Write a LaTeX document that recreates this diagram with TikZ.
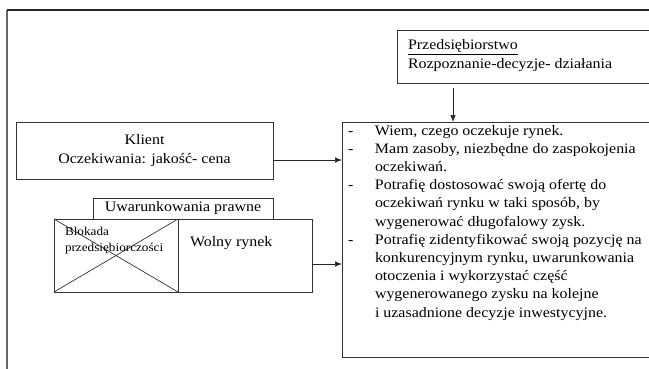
\documentclass[tikz,border=0pt]{standalone}
\usepackage{fontspec}
\setmainfont[FakeStretch=1.1]{Liberation Serif}
\usetikzlibrary{arrows.meta}
\tikzset{
  box/.style={draw=black!80, line width=0.7bp, inner sep=0pt, outer sep=0pt},
  frameline/.style={draw=black!60, line width=1.6bp},
  conn/.style={draw=black!85, line width=0.7bp, -{Latex[length=7bp,width=5.5bp]}},
  txt/.style={inner sep=0pt, outer sep=0pt, font=\fontsize{14.5bp}{18.2bp}\selectfont},
  smalltxt/.style={inner sep=0pt, outer sep=0pt, font=\fontsize{12bp}{16bp}\selectfont}
}
\begin{document}
\begin{tikzpicture}[x=1bp,y=-1bp]
\useasboundingbox (0,0) rectangle (649,368);
% outer frame
\coordinate (fTL) at (7,10);
\coordinate (fTR) at (660,10);
\coordinate (fBL) at (7,375);
\draw[frameline] (fBL) -- (fTL);
\draw[draw=black!85, line width=1.1bp] (fTL) -- (fTR);
% Przedsiebiorstwo
\node[box, minimum width=263bp, minimum height=53bp, anchor=north west] (przed) at (397,30) {};
\node[txt, anchor=west, align=left] (przedtxt) at (408,55.5) {\underline{Przedsiębiorstwo}\\Rozpoznanie-decyzje- działania};
% main box
\node[box, minimum width=318bp, minimum height=235bp, anchor=north west] (main) at (342,122) {};
\node[txt, anchor=north west] (maintxt) at (348,122.3) {%
\begin{tabular}{@{}p{27bp}@{}l@{}}
- & Wiem, czego oczekuje rynek.\\
- & Mam zasoby, niezbędne do zaspokojenia\\
 & oczekiwań.\\
- & Potrafię dostosować swoją ofertę do\\
 & oczekiwań rynku w taki sposób, by\\
 & wygenerować długofalowy zysk.\\
- & Potrafię zidentyfikować swoją pozycję na\\
 & konkurencyjnym rynku, uwarunkowania\\
 & otoczenia i wykorzystać część\\
 & wygenerowanego zysku na kolejne\\
 & i uzasadnione decyzje inwestycyjne.
\end{tabular}};
% Klient
\node[box, minimum width=257bp, minimum height=57bp, anchor=north west, txt, align=center] (klient) at (16,122) {Klient\\Oczekiwania: jakość- cena};
% Uwarunkowania
\node[box, minimum width=180bp, minimum height=21bp, anchor=north west, txt] (uwar) at (93,198) {Uwarunkowania prawne};
% Blokada
\node[box, minimum width=124bp, minimum height=73bp, anchor=north west] (blok) at (54,219) {};
\draw[box] (blok.north west) -- (blok.south east);
\draw[box] (blok.south west) -- (blok.north east);
\node[smalltxt, anchor=north west, align=left] (bloktxt) at (65,227.5) {Blokada\\przedsiębiorczości};
% Wolny rynek
\node[box, minimum width=134bp, minimum height=73bp, anchor=north west] (wolny) at (178,219) {};
\node[txt, anchor=west] (wolnytxt) at (190,243) {Wolny rynek};
% connectors
\coordinate (aStart) at (453,88);
\draw[conn] (aStart) -- (aStart |- main.north);
\draw[conn] (klient.east |- 0,160) -- (main.west |- 0,160);
\draw[conn] (wolny.east |- 0,264) -- (main.west |- 0,264);
\end{tikzpicture}
\end{document}
